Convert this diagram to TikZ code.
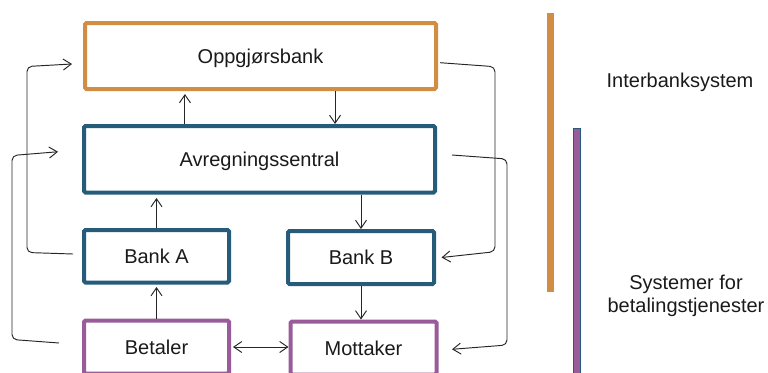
\documentclass[tikz,border=0pt]{standalone}
\usepackage{fontspec}
\setmainfont{Liberation Sans}
\usetikzlibrary{arrows.meta,calc}
\definecolor{ocol}{RGB}{209,142,66}
\definecolor{bcol}{RGB}{38,91,122}
\definecolor{pcol}{RGB}{154,91,154}
\definecolor{tcol}{RGB}{26,26,26}
\definecolor{lcol}{RGB}{38,38,38}
\begin{document}
\begin{tikzpicture}[x=1pt,y=1pt,
 box/.style={draw, line width=4pt, outer sep=2pt, rounded corners=1.5pt, inner sep=0pt, fill=white,
   font=\fontsize{20}{23}\selectfont, text=tcol, text height=14.3pt, text depth=0pt},
 obox/.style={box, draw=ocol},
 bbox/.style={box, draw=bcol},
 pbox/.style={box, draw=pcol},
 tip/.tip={Straight Barb[length=8pt,width=11pt]},
 conn/.style={draw=lcol, line width=0.95pt, -tip},
 side/.style={conn, rounded corners=5pt},
 lbl/.style={font=\fontsize{20}{22.5}\selectfont, text=tcol, align=center, inner sep=0pt}
]
\useasboundingbox (0,0) rectangle (768,-372);
\clip (0,0) rectangle (768,-372);

% boxes
\node[obox, minimum width=351pt, minimum height=66pt] (oppg) at (260.5,-56) {Oppgjørsbank};
\node[bbox, minimum width=351pt, minimum height=66.5pt] (avr) at (259.5,-159.25) {Avregningssentral};
\node[bbox, minimum width=145pt, minimum height=52.5pt] (banka) at (156.5,-256.25) {Bank A};
\node[bbox, minimum width=146pt, minimum height=53pt] (bankb) at (361,-257.5) {Bank B};
\node[pbox, minimum width=145pt, minimum height=53pt] (betaler) at (156.5,-347) {Betaler};
\node[pbox, minimum width=146pt, minimum height=53pt] (mottaker) at (363.5,-348) {Mottaker};

% vertical arrows
\coordinate (a1) at ($(avr.north west)!0.29!(avr.north east)$);
\coordinate (a2) at ($(oppg.south west)!0.71!(oppg.south east)$);
\draw[conn, shorten >=3pt] (a1) -- (a1 |- oppg.south);
\draw[conn] (a2) -- (a2 |- avr.north);
\draw[conn, shorten >=3.5pt] (banka.north) -- (banka.north |- avr.south);
\draw[conn, shorten >=2.5pt] (betaler.north) -- (banka.south);
\draw[conn] (bankb.north |- avr.south) -- (bankb.north);
\draw[conn] (bankb.south) -- (bankb.south |- mottaker.north);
\draw[conn, tip-tip, shorten <=2pt] (betaler.east) -- (betaler.east -| mottaker.west);

% side connectors
\draw[side] ([shift={(-9pt,2.25pt)}]banka.west) -- ++(-46pt,1.5pt) -- ++(0pt,186pt)
  -- ([shift={(-11pt,-8pt)}]oppg.west);
\draw[side] ([shift={(-23pt,4pt)}]betaler.west) -- ++(-47pt,3.5pt) -- ++(0pt,184pt)
  -- ([shift={(-24pt,7.5pt)}]avr.west);
\draw[side] ([shift={(2pt,-6.7pt)}]oppg.east) -- ++(55pt,-4pt) -- ++(0pt,-185pt)
  -- ([shift={(5.5pt,0pt)}]bankb.east);
\draw[side] ([shift={(15pt,4.25pt)}]avr.east) -- ++(55pt,-4pt) -- ++(0pt,-186pt)
  -- ([shift={(13.5pt,-1.3pt)}]mottaker.east);

% bars
\fill[ocol] (547,-13) rectangle (554,-292);
\filldraw[fill=pcol, draw=bcol, line width=0.6pt] (573.5,-128) rectangle (580.5,-380);

% labels
\node[lbl] (inter) at (680,-82) {Interbanksystem};
\node[lbl] (sys) at (686,-295.6) {Systemer for\\betalingstjenester};
\end{tikzpicture}
\end{document}
